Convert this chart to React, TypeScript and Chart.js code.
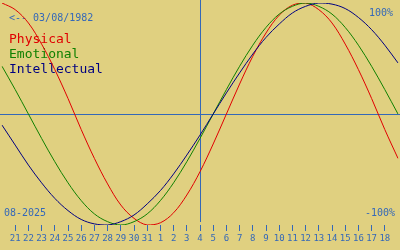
import React, { useEffect, useRef } from "react";
import { Chart, registerables } from "chart.js";

Chart.register(...registerables);

const days = ["20", "21", "22", "23", "24", "25", "26", "27", "28", "29", "30", "31", "1", "2", "3", "4", "5", "6", "7", "8", "9", "10", "11", "12", "13", "14", "15", "16", "17", "18", "19"];
const physical = [100, 94, 82, 63, 40, 14, -14, -40, -63, -82, -94, -100, -98, -89, -73, -52, -27, 0, 27, 52, 73, 89, 98, 100, 94, 82, 63, 40, 14, -14, -40];
const emotional = [43, 22, 0, -22, -43, -62, -78, -90, -97, -100, -97, -90, -78, -62, -43, -22, 0, 22, 43, 62, 78, 90, 97, 100, 97, 90, 78, 62, 43, 22, 0];
const intellectual = [-10, -28, -46, -62, -76, -87, -95, -99, -100, -97, -91, -81, -69, -54, -37, -19, 0, 19, 37, 54, 69, 81, 91, 97, 100, 99, 95, 87, 76, 62, 46];
const seriesNames = ["Physical", "Emotional", "Intellectual"];
const seriesColors = ["#e00000", "#108000", "#000080"];
const todayIndex = 15;
const birthLabel = "<-- 03/08/1982";
const monthLabel = "08-2025";
const topLabel = "100%";
const bottomLabel = "-100%";

const BG = "#e0d080";
const BLUE = "#3468b8";
const MONO = "'DejaVu Sans Mono', monospace";

export default function App() {
  const ref = useRef<HTMLCanvasElement>(null);
  useEffect(() => {
    if (!ref.current) return;
    const overlay = {
      id: "overlay",
      beforeDatasetsDraw(chart: any) {
        const { ctx, chartArea, scales } = chart;
        ctx.save();
        ctx.strokeStyle = BLUE;
        ctx.lineWidth = 1;
        const y0 = Math.round(scales.y.getPixelForValue(0)) + 0.5;
        ctx.beginPath();
        ctx.moveTo(0, y0);
        ctx.lineTo(chart.width, y0);
        ctx.stroke();
        const xt = Math.round(scales.x.getPixelForValue(todayIndex)) + 0.5;
        ctx.beginPath();
        ctx.moveTo(xt, 0);
        ctx.lineTo(xt, chartArea.bottom - 3);
        ctx.stroke();

        ctx.fillStyle = BLUE;
        ctx.font = "10px " + MONO;
        ctx.textBaseline = "alphabetic";
        ctx.textAlign = "left";
        ctx.fillText(birthLabel, 9, 21);
        ctx.fillText(monthLabel, 4, 216);
        ctx.textAlign = "right";
        ctx.fillText(topLabel, 393, 16);
        ctx.fillText(bottomLabel, 395, 216);

        ctx.textAlign = "left";
        ctx.font = "13px " + MONO;
        seriesNames.forEach((n, i) => {
          ctx.fillStyle = seriesColors[i];
          ctx.fillText(n, 9, 43 + i * 15);
        });
        ctx.restore();
      },
    };
    const chart = new Chart(ref.current, {
      type: "line",
      data: {
        labels: days,
        datasets: [
          { label: seriesNames[2], data: intellectual, borderColor: seriesColors[2] },
          { label: seriesNames[1], data: emotional, borderColor: seriesColors[1] },
          { label: seriesNames[0], data: physical, borderColor: seriesColors[0] },
        ].map((d) => ({ ...d, borderWidth: 1, pointRadius: 0, tension: 0.35, fill: false })),
      },
      options: {
        animation: false,
        responsive: false,
        layout: { padding: { top: 3, left: 0, right: 0, bottom: 0 } },
        plugins: { legend: { display: false }, tooltip: { enabled: false } },
        scales: {
          x: {
            type: "category",
            offset: false,
            afterFit: (s: any) => {
              s.height = 25;
            },
            border: { display: false },
            grid: {
              drawOnChartArea: false,
              drawTicks: true,
              tickLength: 6,
              color: (c: any) => (c.index === 0 || c.index === days.length - 1 ? "rgba(0,0,0,0)" : BLUE),
            },
            ticks: {
              autoSkip: false,
              maxRotation: 0,
              padding: 2,
              color: BLUE,
              font: { family: MONO, size: 9 },
              callback: (_v: any, i: number) => (i === 0 || i === days.length - 1 ? "" : days[i]),
            },
          },
          y: { display: false, min: -100, max: 100 },
        },
      },
      plugins: [overlay],
    });
    return () => chart.destroy();
  }, []);
  return (
    <div style={{ position: "fixed", left: 0, top: 0, width: 400, height: 250, background: BG }}>
      <canvas ref={ref} width={400} height={250} style={{ display: "block" }} />
    </div>
  );
}
